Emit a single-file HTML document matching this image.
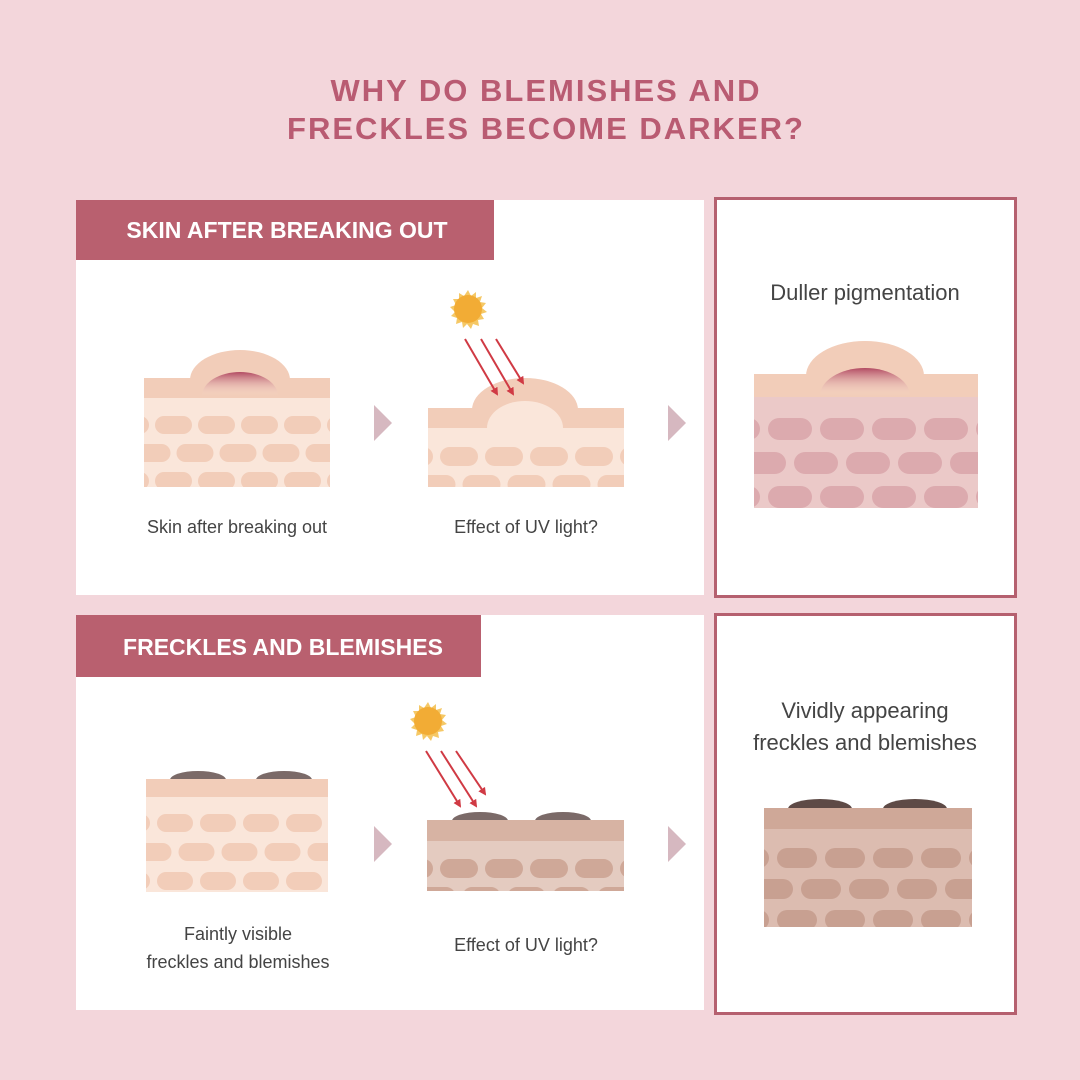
<!DOCTYPE html>
<html><head><meta charset="utf-8"><style>
html,body{margin:0;padding:0;background:#f3d6db;}
svg{display:block}
text{font-family:"Liberation Sans",sans-serif;}
</style></head><body>
<svg width="1080" height="1080" viewBox="0 0 1080 1080" xmlns="http://www.w3.org/2000/svg">
<defs>
<pattern id="b1" patternUnits="userSpaceOnUse" x="155" y="416" width="43" height="400"><rect x="0" y="0" width="37" height="18" rx="9" fill="#f2cdb9"/><rect x="-21.5" y="28" width="37" height="18" rx="9" fill="#f2cdb9"/><rect x="21.5" y="28" width="37" height="18" rx="9" fill="#f2cdb9"/><rect x="0" y="56" width="37" height="18" rx="9" fill="#f2cdb9"/></pattern>
<pattern id="b2" patternUnits="userSpaceOnUse" x="440" y="447" width="45" height="400"><rect x="0" y="0" width="38" height="19" rx="9.5" fill="#f2cdb9"/><rect x="-22.5" y="28" width="38" height="19" rx="9.5" fill="#f2cdb9"/><rect x="22.5" y="28" width="38" height="19" rx="9.5" fill="#f2cdb9"/></pattern>
<pattern id="b3" patternUnits="userSpaceOnUse" x="768" y="418" width="52" height="400"><rect x="0" y="0" width="44" height="22" rx="11" fill="#dcaaae"/><rect x="-26" y="34" width="44" height="22" rx="11" fill="#dcaaae"/><rect x="26" y="34" width="44" height="22" rx="11" fill="#dcaaae"/><rect x="0" y="68" width="44" height="22" rx="11" fill="#dcaaae"/></pattern>
<pattern id="b4" patternUnits="userSpaceOnUse" x="157" y="814" width="43" height="400"><rect x="0" y="0" width="36" height="18" rx="9" fill="#f2cdb9"/><rect x="-21.5" y="29" width="36" height="18" rx="9" fill="#f2cdb9"/><rect x="21.5" y="29" width="36" height="18" rx="9" fill="#f2cdb9"/><rect x="0" y="58" width="36" height="18" rx="9" fill="#f2cdb9"/></pattern>
<pattern id="b5" patternUnits="userSpaceOnUse" x="440" y="859" width="45" height="400"><rect x="0" y="0" width="38" height="19" rx="9.5" fill="#cfa898"/><rect x="-22.5" y="28" width="38" height="19" rx="9.5" fill="#cfa898"/><rect x="22.5" y="28" width="38" height="19" rx="9.5" fill="#cfa898"/></pattern>
<pattern id="b6" patternUnits="userSpaceOnUse" x="777" y="848" width="48" height="400"><rect x="0" y="0" width="40" height="20" rx="10" fill="#c8a091"/><rect x="-24" y="31" width="40" height="20" rx="10" fill="#c8a091"/><rect x="24" y="31" width="40" height="20" rx="10" fill="#c8a091"/><rect x="0" y="62" width="40" height="20" rx="10" fill="#c8a091"/></pattern>
<linearGradient id="pim" x1="0" y1="0" x2="0" y2="1"><stop offset="0" stop-color="#b24a62"/><stop offset="1" stop-color="#fae6da" stop-opacity="0"/></linearGradient>
<marker id="ah" markerWidth="8" markerHeight="8" refX="6" refY="4" orient="auto" markerUnits="userSpaceOnUse"><path d="M0,0 L8,4 L0,8 Z" fill="#d03a44"/></marker>
<g id="sun"><polygon points="0,-19 3,-13 8,-17 8,-11 14,-13 12,-7 18,-6 14,-1 19,3 13,5 16,10 10,11 11,17 5,15 3,20 -1,15 -5,19 -6,13 -12,15 -11,9 -17,7 -13,3 -18,-2 -12,-4 -15,-10 -9,-10 -9,-16 -4,-13" fill="#f5c866"/><circle r="14" fill="#f2ac35"/></g>
</defs>

<text x="546" y="101" text-anchor="middle" font-size="31" font-weight="bold" fill="#b95b72" letter-spacing="2">WHY DO BLEMISHES AND</text>
<text x="546" y="139" text-anchor="middle" font-size="31" font-weight="bold" fill="#b95b72" letter-spacing="2">FRECKLES BECOME DARKER?</text>

<rect x="76" y="200" width="628" height="395" fill="#fff"/>
<rect x="76" y="200" width="418" height="60" fill="#b9606f"/>
<text x="287" y="238" text-anchor="middle" font-size="23" font-weight="bold" fill="#fff">SKIN AFTER BREAKING OUT</text>
<rect x="715.5" y="198.5" width="300" height="398" fill="#fff" stroke="#b5606f" stroke-width="3"/>

<rect x="144" y="398" width="186" height="89" fill="#fae6da"/>
<rect x="144" y="398" width="186" height="89" fill="url(#b1)"/>
<rect x="144" y="378" width="186" height="20" fill="#f2cdb9"/>
<path d="M190,380 A50,30 0 0 1 290,380 Z" fill="#f2cdb9"/>
<path d="M202,396 A38,24 0 0 1 278,396 Z" fill="url(#pim)"/>
<path d="M374,405 L392,423 L374,441 Z" fill="#d6b8c0"/>

<rect x="428" y="428" width="196" height="59" fill="#fae6da"/>
<rect x="428" y="428" width="196" height="59" fill="url(#b2)"/>
<rect x="428" y="408" width="196" height="20" fill="#f2cdb9"/>
<path d="M472,410 A53,32 0 0 1 578,410 Z" fill="#f2cdb9"/>
<path d="M487,428 A38,27 0 0 1 563,428 Z" fill="#fae6da"/>
<use href="#sun" x="468" y="309"/>
<line x1="465" y1="339" x2="497" y2="394" stroke="#d03a44" stroke-width="2" marker-end="url(#ah)"/>
<line x1="481" y1="339" x2="513" y2="394" stroke="#d03a44" stroke-width="2" marker-end="url(#ah)"/>
<line x1="496" y1="339" x2="523" y2="383" stroke="#d03a44" stroke-width="2" marker-end="url(#ah)"/>
<path d="M668,405 L686,423 L668,441 Z" fill="#d6b8c0"/>
<text x="237" y="533" text-anchor="middle" font-size="18" fill="#444">Skin after breaking out</text>
<text x="526" y="533" text-anchor="middle" font-size="18" fill="#444">Effect of UV light?</text>

<text x="865" y="300" text-anchor="middle" font-size="22" fill="#444">Duller pigmentation</text>
<rect x="754" y="397" width="224" height="111" fill="#ebc9c8"/>
<rect x="754" y="397" width="224" height="111" fill="url(#b3)"/>
<rect x="754" y="374" width="224" height="23" fill="#f2cdb9"/>
<path d="M806,376 A59,35 0 0 1 924,376 Z" fill="#f2cdb9"/>
<path d="M820,396 A45,28 0 0 1 910,396 Z" fill="url(#pim)"/>

<rect x="76" y="615" width="628" height="395" fill="#fff"/>
<rect x="76" y="615" width="405" height="62" fill="#b9606f"/>
<text x="283" y="655" text-anchor="middle" font-size="23" font-weight="bold" fill="#fff">FRECKLES AND BLEMISHES</text>
<rect x="715.5" y="614.5" width="300" height="399" fill="#fff" stroke="#b5606f" stroke-width="3"/>

<path d="M170,780 A28,9 0 0 1 226,780 Z" fill="#7b6a68"/>
<path d="M256,780 A28,9 0 0 1 312,780 Z" fill="#7b6a68"/>
<rect x="146" y="797" width="182" height="95" fill="#fae6da"/>
<rect x="146" y="797" width="182" height="95" fill="url(#b4)"/>
<rect x="146" y="779" width="182" height="18" fill="#f2cdb9"/>
<path d="M374,826 L392,844 L374,862 Z" fill="#d6b8c0"/>

<path d="M452,821 A28,9 0 0 1 508,821 Z" fill="#7b6a68"/>
<path d="M535,821 A28,9 0 0 1 591,821 Z" fill="#7b6a68"/>
<rect x="427" y="841" width="197" height="50" fill="#e4cbc0"/>
<rect x="427" y="841" width="197" height="50" fill="url(#b5)"/>
<rect x="427" y="820" width="197" height="21" fill="#d7b3a3"/>
<use href="#sun" x="428" y="721"/>
<line x1="426" y1="751" x2="460" y2="806" stroke="#d03a44" stroke-width="2" marker-end="url(#ah)"/>
<line x1="441" y1="751" x2="476" y2="806" stroke="#d03a44" stroke-width="2" marker-end="url(#ah)"/>
<line x1="456" y1="751" x2="485" y2="794" stroke="#d03a44" stroke-width="2" marker-end="url(#ah)"/>
<path d="M668,826 L686,844 L668,862 Z" fill="#d6b8c0"/>
<text x="238" y="940" text-anchor="middle" font-size="18" fill="#444">Faintly visible</text>
<text x="238" y="968" text-anchor="middle" font-size="18" fill="#444">freckles and blemishes</text>
<text x="526" y="951" text-anchor="middle" font-size="18" fill="#444">Effect of UV light?</text>

<text x="865" y="718" text-anchor="middle" font-size="22" fill="#444">Vividly appearing</text>
<text x="865" y="750" text-anchor="middle" font-size="22" fill="#444">freckles and blemishes</text>
<path d="M788,809 A32,10 0 0 1 852,809 Z" fill="#5e4a46"/>
<path d="M883,809 A32,10 0 0 1 947,809 Z" fill="#5e4a46"/>
<rect x="764" y="829" width="208" height="98" fill="#dcbcb0"/>
<rect x="764" y="829" width="208" height="98" fill="url(#b6)"/>
<rect x="764" y="808" width="208" height="21" fill="#cfa898"/>
</svg>
</body></html>
